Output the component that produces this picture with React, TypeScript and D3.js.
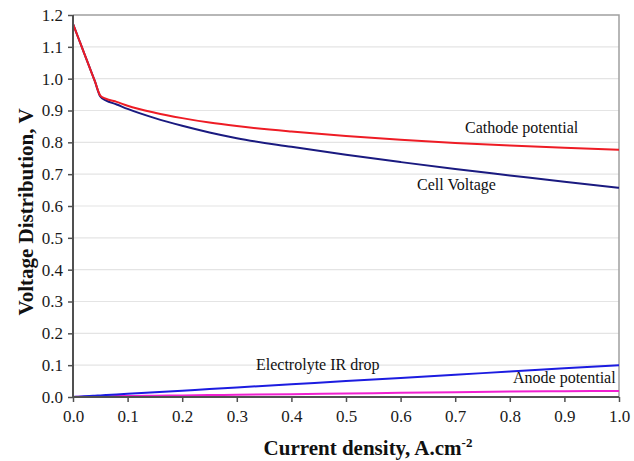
import React, { useRef, useEffect } from "react";
import * as d3 from "d3";

// current density, A/cm2
const currentDensity = [0, 0.01, 0.02, 0.03, 0.04, 0.05, 0.06, 0.08, 0.1, 0.15, 0.2, 0.25, 0.3, 0.4, 0.5, 0.6, 0.7, 0.8, 0.9, 1.0];
const cathodePotential = [1.172, 1.127, 1.082, 1.037, 0.992, 0.947, 0.937, 0.927, 0.915, 0.893, 0.876, 0.862, 0.851, 0.834, 0.82, 0.808, 0.798, 0.79, 0.783, 0.777];
const cellVoltage = [1.172, 1.127, 1.082, 1.037, 0.992, 0.944, 0.932, 0.919, 0.905, 0.876, 0.852, 0.831, 0.813, 0.786, 0.761, 0.738, 0.716, 0.696, 0.676, 0.657];
const irDrop = [0, 0.001, 0.002, 0.003, 0.004, 0.005, 0.006, 0.008, 0.01, 0.015, 0.02, 0.025, 0.03, 0.04, 0.05, 0.06, 0.07, 0.08, 0.09, 0.1];
const anodePotential = [0, 0.001, 0.001, 0.001, 0.002, 0.002, 0.002, 0.003, 0.003, 0.004, 0.005, 0.006, 0.007, 0.009, 0.011, 0.013, 0.015, 0.017, 0.018, 0.019];

const xTicks = [0, 0.1, 0.2, 0.3, 0.4, 0.5, 0.6, 0.7, 0.8, 0.9, 1.0];
const yTicks = [0, 0.1, 0.2, 0.3, 0.4, 0.5, 0.6, 0.7, 0.8, 0.9, 1.0, 1.1, 1.2];

const series = [
  { name: "Cathode potential", values: cathodePotential, color: "#ee1c25", label: [465, 133] },
  { name: "Cell Voltage", values: cellVoltage, color: "#1a1a80", label: [417, 190] },
  { name: "Electrolyte IR drop", values: irDrop, color: "#1c1ce0", label: [256, 370] },
  { name: "Anode potential", values: anodePotential, color: "#f020d0", label: [513, 383] },
];

const FONT = "\"Liberation Serif\", \"Times New Roman\", \"DejaVu Serif\", serif";

export default function App() {
  const svgRef = useRef<SVGSVGElement>(null);

  useEffect(() => {
    const W = 634, H = 461;
    const margin = { top: 15, right: 15, bottom: 64, left: 73 };
    const innerW = W - margin.left - margin.right;
    const innerH = H - margin.top - margin.bottom;

    const svg = d3.select(svgRef.current).attr("width", W).attr("height", H);
    svg.selectAll("*").remove();

    const g = svg.append("g").attr("transform", `translate(${margin.left},${margin.top})`);

    const x = d3.scaleLinear().domain([0, 1]).range([0, innerW]);
    const y = d3.scaleLinear().domain([0, 1.2]).range([innerH, 0]);

    // grid
    g.append("g")
      .selectAll("line")
      .data(yTicks.slice(1, -1))
      .join("line")
        .attr("x1", 0)
        .attr("x2", innerW)
        .attr("y1", d => y(d))
        .attr("y2", d => y(d))
        .attr("stroke", "#e4e4e4")
        .attr("stroke-width", 1.2);

    // frame top / right
    g.append("path")
      .attr("d", `M0,${y(1.2)}H${innerW}V${innerH}`)
      .attr("fill", "none")
      .attr("stroke", "#a0a0a0")
      .attr("stroke-width", 1.5);

    // lines
    const line = d3.line<number>()
      .x((_, i) => x(currentDensity[i]))
      .y(d => y(d))
      .curve(d3.curveMonotoneX);

    // lower curves first
    [...series].reverse().forEach(s => {
      g.append("path")
        .datum(s.values)
        .attr("d", line)
        .attr("fill", "none")
        .attr("stroke", s.color)
        .attr("stroke-width", 2);
    });

    // axes
    const xAxis = g.append("g")
      .attr("transform", `translate(0,${innerH})`)
      .call(d3.axisBottom(x).tickValues(xTicks).tickSize(5).tickPadding(8).tickFormat(d3.format(".1f")));
    const yAxis = g.append("g")
      .call(d3.axisLeft(y).tickValues(yTicks).tickSize(5).tickPadding(5).tickFormat(d3.format(".1f")));

    xAxis.attr("font-family", null);
    yAxis.attr("font-family", null);
    [xAxis, yAxis].forEach(a => {
      a.select(".domain").attr("stroke", "#505050").attr("stroke-width", 2).attr("d", a === xAxis ? `M0,0H${innerW}` : `M0,0V${innerH}`);
      a.selectAll(".tick line").attr("stroke", "#505050").attr("stroke-width", 1.5);
      a.selectAll(".tick text")
        .style("font-family", FONT)
        .style("font-size", "17px")
        .attr("fill", "#1a1a1a");
    });

    // series labels
    series.forEach(s => {
      svg.append("text")
        .attr("x", s.label[0])
        .attr("y", s.label[1])
        .style("font-family", FONT)
        .style("font-size", "16px")
        .attr("fill", "#111")
        .text(s.name);
    });

    // axis titles
    const xt = svg.append("text")
      .attr("x", 368)
      .attr("y", 455)
      .attr("text-anchor", "middle")
      .style("font-family", FONT)
      .style("font-size", "21px")
      .attr("font-weight", "bold")
      .attr("fill", "#111");
    xt.append("tspan").text("Current density, A.cm");
    xt.append("tspan").attr("dy", -8).style("font-size", "13px").text("-2");

    svg.append("text")
      .attr("transform", `translate(33,212) rotate(-90)`)
      .attr("text-anchor", "middle")
      .style("font-family", FONT)
      .style("font-size", "21px")
      .attr("font-weight", "bold")
      .attr("fill", "#111")
      .text("Voltage Distribution, V");
  }, []);

  return (
    <div style={{ position: "absolute", left: 0, top: 0, background: "#fff" }}>
      <svg ref={svgRef} style={{ display: "block" }} />
    </div>
  );
}
